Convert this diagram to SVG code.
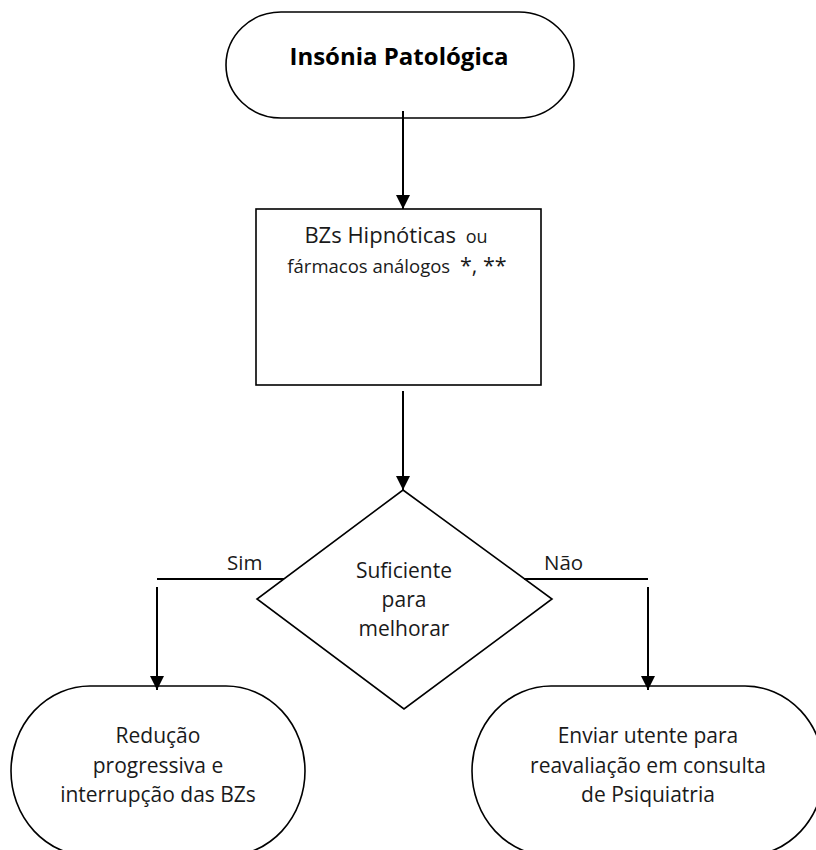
<svg xmlns="http://www.w3.org/2000/svg" width="816" height="850" viewBox="0 0 816 850">
  <style>
    .shape { fill: #ffffff; stroke: #000000; stroke-width: 1.6; }
    .conn { fill: none; stroke: #000000; stroke-width: 2; }
    .txt { font-family: "Open Sans", "Noto Sans", "Liberation Sans", sans-serif; fill: #1a1a1a; text-anchor: middle; }
    .title { font-size: 24px; font-weight: bold; fill: #000000; }
    .body { font-size: 21px; }
    .lbl { font-size: 20.5px; text-anchor: start; }
  </style>
  <defs>
    <marker id="arrow" markerUnits="userSpaceOnUse" markerWidth="16" markerHeight="14" refX="14" refY="7" orient="auto">
      <path d="M0,0 L14,7 L0,14 Z" fill="#000000"/>
    </marker>
  </defs>

  <g id="node-insonia">
    <rect class="shape" x="226" y="12" width="348" height="106" rx="55" ry="53"/>
    <text class="txt title" x="399" y="65">Insónia Patológica</text>
  </g>

  <g id="node-bzs">
    <rect class="shape" x="256" y="209" width="285" height="176"/>
    <text class="txt" x="396" y="243"><tspan font-size="22">BZs Hipnóticas </tspan><tspan font-size="18" dx="4">ou</tspan></text>
    <text class="txt" x="397" y="273"><tspan font-size="18.5">fármacos análogos </tspan><tspan font-size="21.5" dx="5">*, **</tspan></text>
  </g>

  <g id="node-decisao">
    <polygon class="shape" points="403,490 552,599 404,709 257,599"/>
    <text class="txt body" x="404" y="578">Suficiente</text>
    <text class="txt body" x="404" y="607">para</text>
    <text class="txt body" x="404" y="636">melhorar</text>
  </g>

  <g id="node-reducao">
    <rect class="shape" x="11" y="686" width="294" height="170" rx="79" ry="85"/>
    <text class="txt body" x="158" y="743">Redução</text>
    <text class="txt body" x="158" y="773">progressiva e</text>
    <text class="txt body" x="158" y="802">interrupção das BZs</text>
  </g>

  <g id="node-enviar">
    <rect class="shape" x="472" y="686" width="352" height="170" rx="79" ry="85"/>
    <text class="txt body" x="648" y="743">Enviar utente para</text>
    <text class="txt body" x="648" y="773">reavaliação em consulta</text>
    <text class="txt body" x="648" y="802">de Psiquiatria</text>
  </g>

  <g id="connectors">
    <line class="conn" x1="403" y1="111" x2="403" y2="209" marker-end="url(#arrow)"/>
    <line class="conn" x1="403" y1="391" x2="403" y2="490" marker-end="url(#arrow)"/>
    <line class="conn" x1="157" y1="579" x2="284" y2="579"/>
    <line class="conn" x1="157" y1="587" x2="157" y2="690" marker-end="url(#arrow)"/>
    <line class="conn" x1="524" y1="579" x2="648" y2="579"/>
    <line class="conn" x1="648" y1="587" x2="648" y2="690" marker-end="url(#arrow)"/>
    <text class="txt lbl" x="227" y="570">Sim</text>
    <text class="txt lbl" x="544" y="570">Não</text>
  </g>
</svg>
